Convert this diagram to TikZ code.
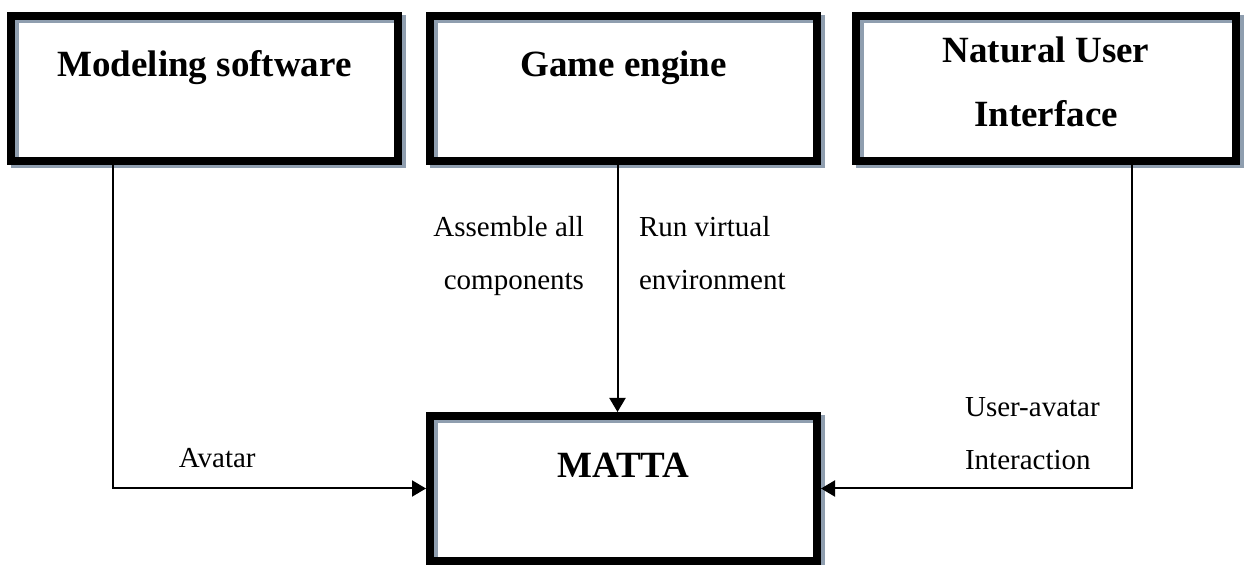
\documentclass[tikz,border=0pt]{standalone}
\usepackage{fontspec}
\setmainfont{Liberation Serif}
\usepackage{tikz}
\usetikzlibrary{arrows.meta}
\definecolor{shadowgray}{RGB}{143,158,175}

\begin{document}
\begin{tikzpicture}[x=0.5pt,y=-0.5pt,
  blk/.style={draw=black,line width=4pt,minimum width=193.5pt,inner sep=0pt,
              font=\fontsize{18.5}{32}\selectfont\bfseries,align=center,
              text height=30.5pt,text depth=42pt,
              preaction={draw=shadowgray,line width=4pt,
                         transform canvas={shift={(1.75pt,-1.75pt)}}}},
  lbl/.style={font=\fontsize{14.5}{26.5}\selectfont,inner sep=0pt},
  conn/.style={-{Triangle[length=7pt,width=8pt]},line width=1pt}]
  \useasboundingbox (0,0) rectangle (1246,565);
  % the three tools on top, the system below
  \node[blk] (ms) at (204.5,88.5) {Modeling software};
  \node[blk] (ge) at (623.5,88.5) {Game engine};
  \node[blk,minimum width=190pt,text height=55.5pt,text depth=17pt] (ni) at (1046,88.5) {Natural User\\Interface};
  \node[blk,text height=31pt,text depth=41.5pt] (ma) at (623.5,488.5) {MATTA};
  % connectors
  \draw[conn] ([xshift=-3pt]ge.south) --
      node[lbl,pos=0.506,anchor=base east,xshift=-16.25pt,align=right]{Assemble all\\components}
      node[lbl,pos=0.506,anchor=base west,xshift=10.25pt,align=left]{Run virtual\\environment}
      ([xshift=-3pt]ma.north);
  \draw[conn] ([xshift=-46pt]ms.south) |- node[lbl,pos=0.667,anchor=base,yshift=10.5pt]{Avatar} (ma.west);
  \draw[conn] ([xshift=43pt]ni.south) |-
      node[lbl,pos=0.77,anchor=base west,yshift=9.5pt,align=left]{User-avatar\\Interaction} (ma.east);
\end{tikzpicture}
\end{document}
